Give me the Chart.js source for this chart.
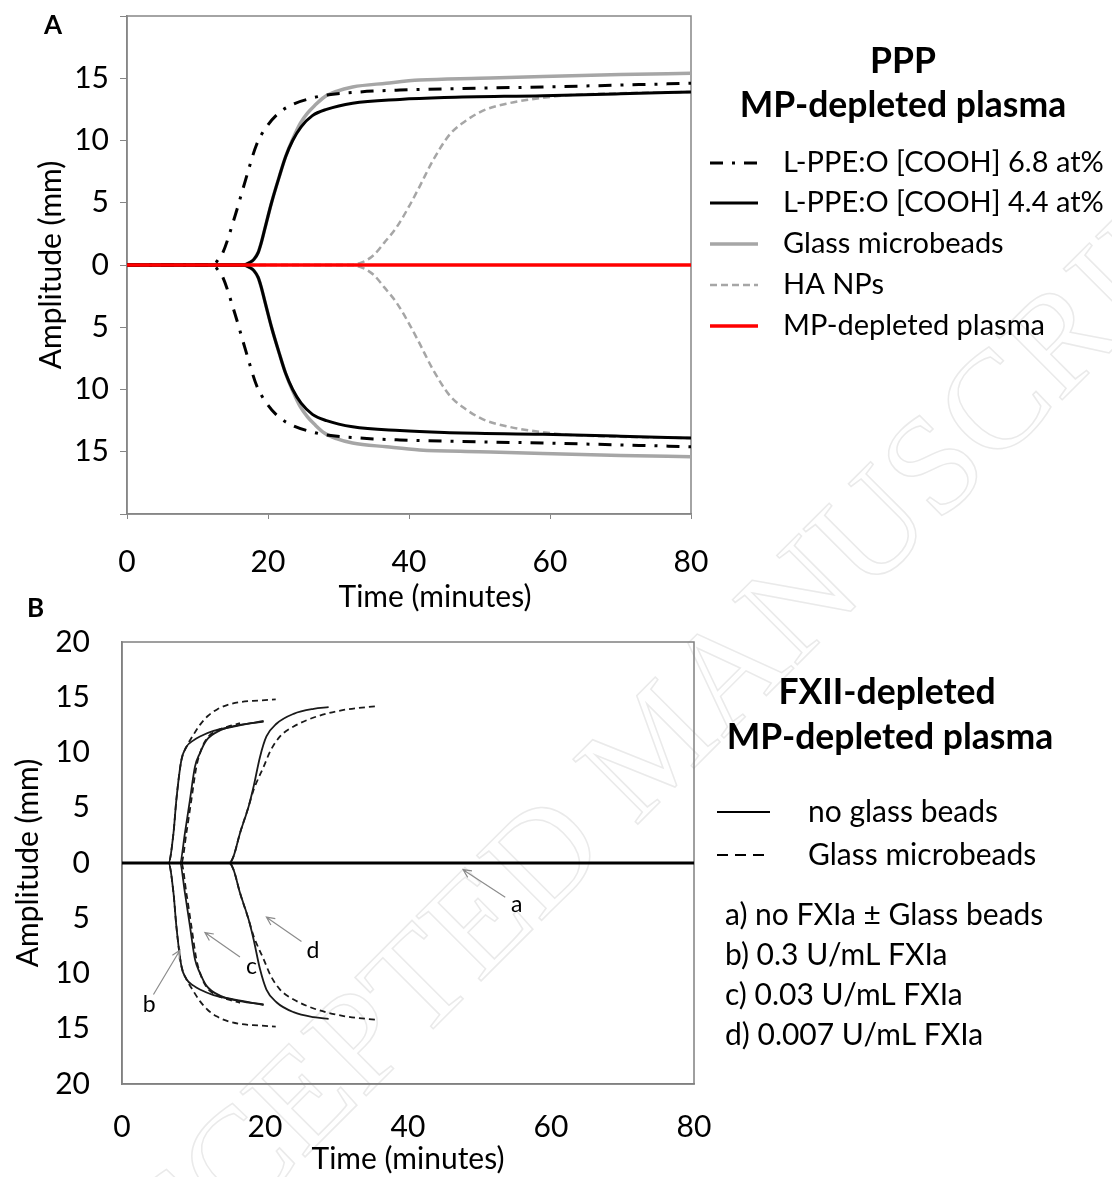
<!DOCTYPE html>
<html>
<head>
<meta charset="utf-8">
<script src="https://cdn.jsdelivr.net/npm/chart.js@4.4.1/dist/chart.umd.min.js"></script>
<style>
  html, body { margin: 0; padding: 0; background: #fff; }
  #wrap { position: relative; width: 1112px; height: 1177px; overflow: hidden; }
  canvas { position: absolute; left: 0; }
  #mark { top: 0; z-index: 0; }
  #chartA { top: 0; z-index: 1; }
  #chartB { top: 600px; z-index: 2; }
</style>
</head>
<body>
<div id="wrap">
  <canvas id="mark" width="1112" height="1177"></canvas>
  <canvas id="chartA" width="1112" height="625"></canvas>
  <canvas id="chartB" width="1112" height="577"></canvas>
</div>
<script>
// ---- Panel A: PPP / MP-depleted plasma (upper trace; lower trace is its mirror) ----
const ppp68Time = [0, 12.2, 12.9, 13.6, 15.3, 16.8, 18.4, 19.8, 21.4, 23.5, 26.2, 28.3, 33, 38.7, 50, 59, 70, 80];
const ppp68Amp  = [0, 0, 0.4, 1.0, 3.9, 6.8, 9.7, 11.1, 12.15, 12.9, 13.4, 13.65, 13.9, 14.05, 14.2, 14.3, 14.45, 14.6];
const ppp44Time = [0, 16.5, 17.4, 18.0, 18.6, 19.0, 19.5, 20.5, 21.6, 22.5, 23.5, 24.7, 26.3, 28.3, 32, 38.7, 45, 59, 70, 80];
const ppp44Amp  = [0, 0, 0.2, 0.45, 1.0, 1.7, 2.8, 5.0, 7.1, 8.7, 10.0, 11.1, 12.0, 12.5, 13.0, 13.3, 13.45, 13.6, 13.75, 13.9];
const glassTime = [0, 16.5, 17.4, 18.0, 18.6, 19.0, 19.5, 20.5, 21.6, 22.5, 23.5, 24.6, 25.6, 26.6, 28, 29.7, 32, 36.8, 41.5, 50, 59, 70, 80];
const glassAmp  = [0, 0, 0.2, 0.45, 1.0, 1.7, 2.8, 5.0, 7.1, 8.7, 10.1, 11.4, 12.2, 12.8, 13.5, 13.95, 14.3, 14.6, 14.85, 15.0, 15.15, 15.3, 15.4];
const haTime = [0, 31.5, 33.5, 35, 36.5, 38.2, 40, 41.5, 43.4, 45.8, 48.1, 50.5, 53.8, 58.5, 63, 70, 80];
const haAmp  = [0, 0, 0.25, 0.8, 1.8, 3.0, 4.7, 6.3, 8.4, 10.5, 11.6, 12.4, 12.95, 13.4, 13.65, 13.8, 13.9];
const plasmaTime = [0, 80];
const plasmaAmp  = [0, 0];

// ---- Panel B: FXII-depleted MP-depleted plasma (0 = no glass beads, G = glass microbeads) ----
const noFxiaTime = [0, 80];
const noFxiaAmp  = [0, 0];
const b0Time = [0, 6.5, 7.2, 7.6, 8.3, 9.0, 10.0, 10.9, 12.8, 15.6, 19.8];
const b0Amp  = [0, 0, 2.7, 5.7, 9.3, 10.5, 11.1, 11.45, 11.95, 12.35, 12.85];
const bGTime = [0, 6.5, 7.2, 7.6, 8.3, 9.0, 9.9, 10.9, 12.0, 13.3, 14.5, 16.4, 19, 21.5];
const bGAmp  = [0, 0, 2.7, 5.7, 9.3, 10.5, 11.5, 12.5, 13.3, 13.9, 14.25, 14.55, 14.7, 14.8];
const c0Time = [0, 8.1, 8.8, 9.5, 10.2, 10.9, 11.8, 13.7, 16.5, 19.8];
const c0Amp  = [0, 0, 2.7, 5.7, 8.7, 9.95, 11.1, 12.0, 12.5, 12.8];
const cGTime = [0, 8.3, 9.0, 9.7, 10.4, 11.1, 11.9, 13.2, 14.8, 16.5];
const cGAmp  = [0, 0, 2.7, 5.7, 8.7, 10.3, 11.3, 11.95, 12.35, 12.65];
const d0Time = [0, 15.0, 15.6, 16.5, 17.7, 18.4, 19.3, 20.2, 21.6, 24.0, 26.8, 28.9];
const d0Amp  = [0, 0, 0.6, 2.7, 5.1, 6.9, 9.6, 11.45, 12.6, 13.5, 13.95, 14.1];
const dGTime = [0, 15.0, 15.6, 16.5, 17.7, 18.4, 19.8, 20.8, 22.1, 24.0, 27.2, 31.0, 35.6];
const dGAmp  = [0, 0, 0.6, 2.7, 5.1, 6.6, 8.7, 10.2, 11.45, 12.35, 13.25, 13.85, 14.2];

const timeTicks = [0, 20, 40, 60, 80];

const FONT = 'Lato, "Open Sans", sans-serif';
Chart.defaults.font.family = FONT;
Chart.defaults.color = '#000';

const pts = (t, v, sign) => t.map((x, i) => ({ x, y: sign * v[i] }));

// upper trace + mirrored lower trace
const pair = (label, t, v, style, order) => [
  { label, data: pts(t, v, 1), order, ...style },
  { label: '_' + label, data: pts(t, v, -1), order, ...style }
];

const lineBase = { pointRadius: 0, fill: false, cubicInterpolationMode: 'monotone', borderCapStyle: 'butt' };

// plot box
const frame = {
  id: 'frame',
  beforeDatasetsDraw(chart, args, opts) {
    const { ctx, chartArea: a } = chart;
    ctx.save();
    ctx.strokeStyle = opts.color;
    ctx.lineWidth = opts.width;
    ctx.strokeRect(a.left, a.top, a.right - a.left, a.bottom - a.top);
    ctx.restore();
  }
};

// headings, legend block and arrow notes
const panelText = {
  id: 'panelText',
  afterDraw(chart, args, opts) {
    const ctx = chart.ctx;
    ctx.save();
    ctx.fillStyle = '#000';
    ctx.textBaseline = 'middle';
    (opts.texts || []).forEach(t => {
      ctx.font = (t.bold ? 'bold ' : '') + t.size + 'px ' + FONT;
      ctx.textAlign = t.align || 'left';
      ctx.fillText(t.text, t.x, t.y);
    });

    const lg = opts.legend;
    if (lg) {
      const items = lg.items ? lg.items : chart.data.datasets.filter(d => d.label[0] !== '_');
      items.forEach((it, i) => {
        const y = lg.ys[i];
        ctx.save();
        ctx.strokeStyle = it.borderColor;
        ctx.lineWidth = it.borderWidth;
        ctx.setLineDash(it.borderDash || []);
        ctx.beginPath();
        ctx.moveTo(lg.x1, y);
        ctx.lineTo(lg.x2, y);
        ctx.stroke();
        ctx.restore();
        ctx.font = lg.size + 'px ' + FONT;
        ctx.textAlign = 'left';
        ctx.fillText(it.label, lg.textX, y);
      });
    }

    const xs = chart.scales.x, ys = chart.scales.y;
    (opts.notes || []).forEach(n => {
      const fx = xs.getPixelForValue(n.from[0]), fy = ys.getPixelForValue(n.from[1]);
      const tx = xs.getPixelForValue(n.to[0]), ty = ys.getPixelForValue(n.to[1]);
      const ang = Math.atan2(ty - fy, tx - fx);
      ctx.strokeStyle = '#8c8c8c';
      ctx.lineWidth = 1.2;
      ctx.beginPath();
      ctx.moveTo(fx, fy);
      ctx.lineTo(tx, ty);
      ctx.moveTo(tx - 9 * Math.cos(ang - 0.45), ty - 9 * Math.sin(ang - 0.45));
      ctx.lineTo(tx, ty);
      ctx.lineTo(tx - 9 * Math.cos(ang + 0.45), ty - 9 * Math.sin(ang + 0.45));
      ctx.stroke();
      ctx.font = n.size + 'px ' + FONT;
      ctx.textAlign = 'center';
      ctx.fillText(n.text, xs.getPixelForValue(n.at[0]), ys.getPixelForValue(n.at[1]));
    });
    ctx.restore();
  }
};

const fixSize = (w, h) => scale => {
  if (w !== null) scale.width = w;
  if (h !== null) scale.height = h;
  scale.paddingTop = 0; scale.paddingBottom = 0;
  scale.paddingLeft = 0; scale.paddingRight = 0;
};

// ---------------- Chart A ----------------
const style68 = { ...lineBase, borderColor: '#000', borderWidth: 3, borderDash: [13, 9, 3, 9] };
const style44 = { ...lineBase, borderColor: '#000', borderWidth: 3 };
const styleGlass = { ...lineBase, borderColor: '#a6a6a6', borderWidth: 3.5 };
const styleHa = { ...lineBase, borderColor: '#a6a6a6', borderWidth: 2.5, borderDash: [7, 4] };
const stylePlasma = { ...lineBase, borderColor: '#ff0000', borderWidth: 3.5 };

new Chart(document.getElementById('chartA'), {
  type: 'line',
  data: {
    datasets: [
      ...pair('L-PPE:O [COOH] 6.8 at%', ppp68Time, ppp68Amp, style68, 1),
      ...pair('L-PPE:O [COOH] 4.4 at%', ppp44Time, ppp44Amp, style44, 2),
      ...pair('Glass microbeads', glassTime, glassAmp, styleGlass, 4),
      ...pair('HA NPs', haTime, haAmp, styleHa, 3),
      { label: 'MP-depleted plasma', data: pts(plasmaTime, plasmaAmp, 1), order: 0, ...stylePlasma }
    ]
  },
  options: {
    responsive: false,
    animation: false,
    events: [],
    layout: { padding: { left: 0, top: 16, right: 421, bottom: 0 } },
    scales: {
      x: {
        type: 'linear', min: 0, max: 80,
        afterBuildTicks: s => { s.ticks = timeTicks.map(v => ({ value: v })); },
        afterFit: fixSize(null, 111),
        grid: { drawOnChartArea: false, drawTicks: true, tickLength: 5, color: '#868686' },
        border: { color: '#868686', width: 1.5 },
        ticks: { font: { size: 30 }, padding: 25, maxRotation: 0 },
        title: { display: false }
      },
      y: {
        min: -20, max: 20,
        afterFit: fixSize(127, null),
        grid: { drawOnChartArea: false, drawTicks: true, tickLength: 7, color: '#868686' },
        border: { color: '#868686', width: 1.5 },
        ticks: { stepSize: 5, font: { size: 30 }, padding: 11,
          callback: v => Math.abs(v) === 20 ? '' : Math.abs(v) },
        title: { display: true, text: 'Amplitude (mm)', font: { size: 30 }, padding: { top: 33, bottom: 0 } }
      }
    },
    plugins: {
      legend: { display: false },
      tooltip: { enabled: false },
      frame: { color: '#868686', width: 1.5 },
      panelText: {
        texts: [
          { text: 'A', x: 44, y: 26, size: 26, bold: true },
          { text: 'B', x: 27, y: 609, size: 26, bold: true },
          { text: 'PPP', x: 903, y: 62, size: 35.5, bold: true, align: 'center' },
          { text: 'MP-depleted plasma', x: 903, y: 106, size: 35.5, bold: true, align: 'center' },
          { text: 'Time (minutes)', x: 435, y: 597, size: 30, align: 'center' }
        ],
        legend: { x1: 710, x2: 758, textX: 783, size: 29, ys: [163, 203, 244, 285, 326] }
      }
    }
  },
  plugins: [frame, panelText]
});

// ---------------- Chart B ----------------
const styleNoBeads = { ...lineBase, borderColor: '#1a1a1a', borderWidth: 1.8 };
const styleBeads = { ...lineBase, borderColor: '#1a1a1a', borderWidth: 1.8, borderDash: [6, 4] };
const styleZero = { ...lineBase, borderColor: '#000', borderWidth: 3 };

new Chart(document.getElementById('chartB'), {
  type: 'line',
  data: {
    datasets: [
      { label: 'a', data: pts(noFxiaTime, noFxiaAmp, 1), order: 0, ...styleZero },
      ...pair('b no beads', b0Time, b0Amp, styleNoBeads, 1),
      ...pair('b beads', bGTime, bGAmp, styleBeads, 2),
      ...pair('c no beads', c0Time, c0Amp, styleNoBeads, 1),
      ...pair('c beads', cGTime, cGAmp, styleBeads, 2),
      ...pair('d no beads', d0Time, d0Amp, styleNoBeads, 1),
      ...pair('d beads', dGTime, dGAmp, styleBeads, 2)
    ]
  },
  options: {
    responsive: false,
    animation: false,
    events: [],
    layout: { padding: { left: 0, top: 42, right: 418, bottom: 0 } },
    scales: {
      x: {
        type: 'linear', min: 0, max: 80,
        afterBuildTicks: s => { s.ticks = timeTicks.map(v => ({ value: v })); },
        afterFit: fixSize(null, 93),
        grid: { drawOnChartArea: false, drawTicks: false },
        border: { color: '#808080', width: 1.5 },
        ticks: { font: { size: 30 }, padding: 25, maxRotation: 0 },
        title: { display: true, text: 'Time (minutes)', font: { size: 30 }, padding: { top: 0, bottom: 0 } }
      },
      y: {
        min: -20, max: 20,
        afterFit: fixSize(122, null),
        grid: { drawOnChartArea: false, drawTicks: false },
        border: { color: '#808080', width: 1.5 },
        ticks: { stepSize: 5, font: { size: 30 }, padding: 32, callback: v => Math.abs(v) },
        title: { display: true, text: 'Amplitude (mm)', font: { size: 30 }, padding: { top: 10, bottom: 0 } }
      }
    },
    plugins: {
      legend: { display: false },
      tooltip: { enabled: false },
      frame: { color: '#808080', width: 1.5 },
      panelText: {
        texts: [
          { text: 'FXII-depleted', x: 887, y: 93, size: 35.5, bold: true, align: 'center' },
          { text: 'MP-depleted plasma', x: 890, y: 138, size: 35.5, bold: true, align: 'center' },
          { text: 'a) no FXIa ± Glass beads', x: 725, y: 315, size: 30 },
          { text: 'b) 0.3 U/mL FXIa', x: 725, y: 355, size: 30 },
          { text: 'c) 0.03 U/mL FXIa', x: 725, y: 395, size: 30 },
          { text: 'd) 0.007 U/mL FXIa', x: 725, y: 435, size: 30 }
        ],
        legend: {
          x1: 717, x2: 770, textX: 808, size: 30, ys: [212, 255],
          items: [
            { label: 'no glass beads', borderColor: '#000', borderWidth: 2.2, borderDash: [] },
            { label: 'Glass microbeads', borderColor: '#000', borderWidth: 2.2, borderDash: [11, 7] }
          ]
        },
        notes: [
          { text: 'a', at: [55.2, -3.8], from: [53.6, -3.1], to: [47.7, -0.6], size: 23 },
          { text: 'b', at: [3.8, -12.85], from: [4.4, -11.9], to: [8.1, -7.9], size: 23 },
          { text: 'c', at: [18.1, -9.4], from: [16.5, -8.5], to: [11.6, -6.3], size: 23 },
          { text: 'd', at: [26.7, -7.9], from: [25.1, -7.1], to: [20.2, -4.9], size: 23 }
        ]
      }
    }
  },
  plugins: [frame, panelText]
});

// faint manuscript watermark behind both panels
const wm = document.getElementById('mark').getContext('2d');
wm.save();
wm.translate(660, 750);
wm.rotate(-Math.PI / 4);
wm.font = '140px "Liberation Serif", serif';
wm.textAlign = 'center';
wm.textBaseline = 'middle';
wm.strokeStyle = '#eaeaea';
wm.lineWidth = 1.5;
wm.strokeText('ACCEPTED MANUSCRIPT', 0, 0);
wm.restore();
</script>
</body>
</html>
